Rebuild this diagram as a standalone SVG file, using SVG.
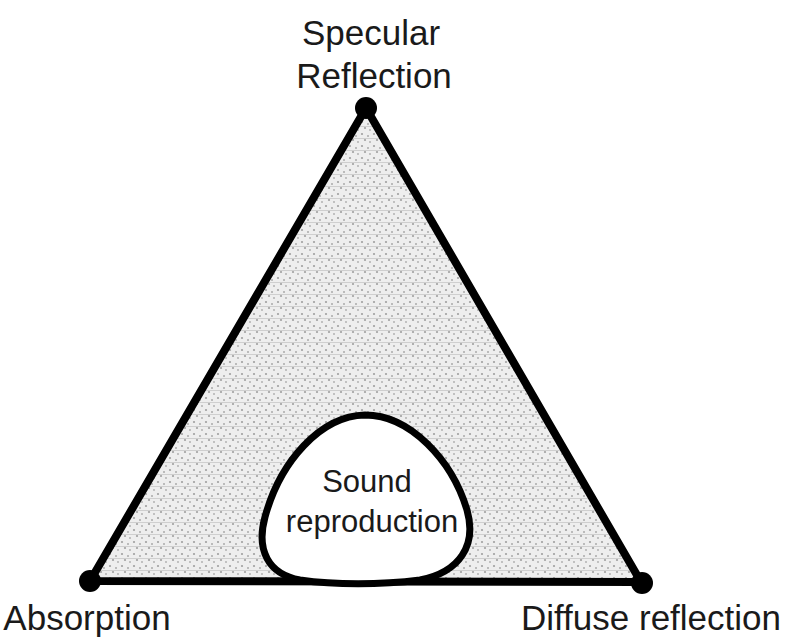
<svg xmlns="http://www.w3.org/2000/svg" width="794" height="642" viewBox="0 0 794 642">
<style>
.lbl{font-family:"Liberation Sans",Arial,sans-serif;font-size:35px;fill:#1a1a1a;text-anchor:middle}
.in{font-family:"Liberation Sans",Arial,sans-serif;font-size:31px;fill:#1a1a1a;text-anchor:middle}
.edge{stroke:#000;stroke-width:8;stroke-linejoin:round}
.dot{fill:#000}
</style>
<defs>
<pattern id="stip" width="12" height="12" patternUnits="userSpaceOnUse">
<rect width="12" height="12" fill="#eeeeee"/>
<circle cx="2" cy="2" r="1.1" fill="#a0a0a0"/>
<circle cx="8" cy="4" r="1" fill="#aaaaaa"/>
<circle cx="5" cy="8" r="1.1" fill="#a0a0a0"/>
<circle cx="10" cy="10" r="0.9" fill="#acacac"/>
<rect x="0" y="6" width="12" height="0.8" fill="#c8c8c8"/>
</pattern>
</defs>
<g id="triangle">
<polygon points="366,108 90,581 641,582" class="edge" style="fill:url(#stip)"/>
</g>
<g id="sound-reproduction">
<path d="M300,580 C268,574 256,550 265,517 C280,462 320,416 365,415 C410,415 452,460 467,510 C477,545 460,572 420,580 C380,585 335,585 300,580 Z" fill="#fff" stroke="#000" stroke-width="7"/>
<text class="in" x="367" y="492">Sound</text>
<text class="in" x="372" y="532">reproduction</text>
</g>
<g id="specular">
<circle class="dot" cx="366" cy="108" r="11"/>
<text class="lbl" x="371" y="45">Specular</text>
<text class="lbl" x="374" y="88">Reflection</text>
</g>
<g id="absorption">
<circle class="dot" cx="90" cy="581" r="11"/>
<text class="lbl" x="87" y="630">Absorption</text>
</g>
<g id="diffuse">
<circle class="dot" cx="642" cy="583" r="11"/>
<text class="lbl" x="651" y="630">Diffuse reflection</text>
</g>
</svg>
